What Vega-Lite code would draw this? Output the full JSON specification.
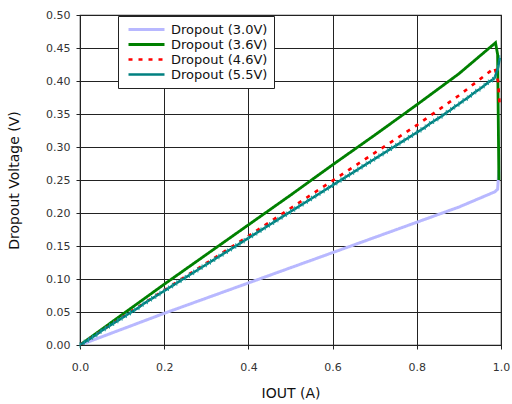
{
  "$schema": "https://vega.github.io/schema/vega-lite/v6.json",
  "autosize": {"type": "none"},
  "width": 421,
  "height": 330,
  "padding": {"left": 80, "top": 15, "right": 11, "bottom": 59},
  "background": "white",
  "config": {
    "font": "DejaVu Sans",
    "view": {"stroke": "#222", "strokeWidth": 1.2},
    "axis": {"gridColor": "#222", "gridOpacity": 1, "gridWidth": 1, "domain": false, "tickColor": "#222", "tickSize": 4, "labelColor": "#333", "labelFontSize": 11, "labelFlush": false, "titleFontSize": 14, "titleFontWeight": "normal", "titleColor": "#111"}
  },
  "datasets": {
    "main": [
      {"s": "Dropout (3.0V)", "x": 0, "y": 0},
      {"s": "Dropout (3.0V)", "x": 0.1, "y": 0.024},
      {"s": "Dropout (3.0V)", "x": 0.2, "y": 0.048},
      {"s": "Dropout (3.0V)", "x": 0.3, "y": 0.071},
      {"s": "Dropout (3.0V)", "x": 0.4, "y": 0.094},
      {"s": "Dropout (3.0V)", "x": 0.5, "y": 0.117},
      {"s": "Dropout (3.0V)", "x": 0.6, "y": 0.14},
      {"s": "Dropout (3.0V)", "x": 0.7, "y": 0.163},
      {"s": "Dropout (3.0V)", "x": 0.8, "y": 0.186},
      {"s": "Dropout (3.0V)", "x": 0.9, "y": 0.209},
      {"s": "Dropout (3.0V)", "x": 0.985, "y": 0.232},
      {"s": "Dropout (3.0V)", "x": 0.992, "y": 0.236},
      {"s": "Dropout (3.0V)", "x": 0.995, "y": 0.265},
      {"s": "Dropout (3.6V)", "x": 0, "y": 0},
      {"s": "Dropout (3.6V)", "x": 0.1, "y": 0.046},
      {"s": "Dropout (3.6V)", "x": 0.2, "y": 0.092},
      {"s": "Dropout (3.6V)", "x": 0.3, "y": 0.137},
      {"s": "Dropout (3.6V)", "x": 0.4, "y": 0.182},
      {"s": "Dropout (3.6V)", "x": 0.5, "y": 0.227},
      {"s": "Dropout (3.6V)", "x": 0.6, "y": 0.273},
      {"s": "Dropout (3.6V)", "x": 0.7, "y": 0.318},
      {"s": "Dropout (3.6V)", "x": 0.8, "y": 0.364},
      {"s": "Dropout (3.6V)", "x": 0.9, "y": 0.411},
      {"s": "Dropout (3.6V)", "x": 0.987, "y": 0.458},
      {"s": "Dropout (3.6V)", "x": 0.992, "y": 0.44},
      {"s": "Dropout (3.6V)", "x": 0.995, "y": 0.25},
      {"s": "Dropout (4.6V)", "x": 0, "y": 0},
      {"s": "Dropout (4.6V)", "x": 0.1, "y": 0.042},
      {"s": "Dropout (4.6V)", "x": 0.2, "y": 0.083},
      {"s": "Dropout (4.6V)", "x": 0.3, "y": 0.124},
      {"s": "Dropout (4.6V)", "x": 0.4, "y": 0.165},
      {"s": "Dropout (4.6V)", "x": 0.5, "y": 0.207},
      {"s": "Dropout (4.6V)", "x": 0.6, "y": 0.249},
      {"s": "Dropout (4.6V)", "x": 0.7, "y": 0.291},
      {"s": "Dropout (4.6V)", "x": 0.8, "y": 0.333},
      {"s": "Dropout (4.6V)", "x": 0.9, "y": 0.378},
      {"s": "Dropout (4.6V)", "x": 0.985, "y": 0.42},
      {"s": "Dropout (4.6V)", "x": 0.993, "y": 0.4},
      {"s": "Dropout (4.6V)", "x": 0.997, "y": 0.36},
      {"s": "Dropout (5.5V)", "x": 0, "y": 0},
      {"s": "Dropout (5.5V)", "x": 0.01, "y": 0.004},
      {"s": "Dropout (5.5V)", "x": 0.02, "y": 0.008},
      {"s": "Dropout (5.5V)", "x": 0.03, "y": 0.012},
      {"s": "Dropout (5.5V)", "x": 0.04, "y": 0.016},
      {"s": "Dropout (5.5V)", "x": 0.05, "y": 0.021},
      {"s": "Dropout (5.5V)", "x": 0.06, "y": 0.025},
      {"s": "Dropout (5.5V)", "x": 0.07, "y": 0.029},
      {"s": "Dropout (5.5V)", "x": 0.08, "y": 0.033},
      {"s": "Dropout (5.5V)", "x": 0.09, "y": 0.037},
      {"s": "Dropout (5.5V)", "x": 0.1, "y": 0.041},
      {"s": "Dropout (5.5V)", "x": 0.11, "y": 0.045},
      {"s": "Dropout (5.5V)", "x": 0.12, "y": 0.049},
      {"s": "Dropout (5.5V)", "x": 0.13, "y": 0.053},
      {"s": "Dropout (5.5V)", "x": 0.14, "y": 0.057},
      {"s": "Dropout (5.5V)", "x": 0.15, "y": 0.062},
      {"s": "Dropout (5.5V)", "x": 0.16, "y": 0.066},
      {"s": "Dropout (5.5V)", "x": 0.17, "y": 0.07},
      {"s": "Dropout (5.5V)", "x": 0.18, "y": 0.074},
      {"s": "Dropout (5.5V)", "x": 0.19, "y": 0.078},
      {"s": "Dropout (5.5V)", "x": 0.2, "y": 0.082},
      {"s": "Dropout (5.5V)", "x": 0.21, "y": 0.086},
      {"s": "Dropout (5.5V)", "x": 0.22, "y": 0.09},
      {"s": "Dropout (5.5V)", "x": 0.23, "y": 0.094},
      {"s": "Dropout (5.5V)", "x": 0.24, "y": 0.098},
      {"s": "Dropout (5.5V)", "x": 0.25, "y": 0.102},
      {"s": "Dropout (5.5V)", "x": 0.26, "y": 0.106},
      {"s": "Dropout (5.5V)", "x": 0.27, "y": 0.11},
      {"s": "Dropout (5.5V)", "x": 0.28, "y": 0.114},
      {"s": "Dropout (5.5V)", "x": 0.29, "y": 0.118},
      {"s": "Dropout (5.5V)", "x": 0.3, "y": 0.122},
      {"s": "Dropout (5.5V)", "x": 0.31, "y": 0.126},
      {"s": "Dropout (5.5V)", "x": 0.32, "y": 0.13},
      {"s": "Dropout (5.5V)", "x": 0.33, "y": 0.134},
      {"s": "Dropout (5.5V)", "x": 0.34, "y": 0.138},
      {"s": "Dropout (5.5V)", "x": 0.35, "y": 0.142},
      {"s": "Dropout (5.5V)", "x": 0.36, "y": 0.146},
      {"s": "Dropout (5.5V)", "x": 0.37, "y": 0.15},
      {"s": "Dropout (5.5V)", "x": 0.38, "y": 0.154},
      {"s": "Dropout (5.5V)", "x": 0.39, "y": 0.158},
      {"s": "Dropout (5.5V)", "x": 0.4, "y": 0.162},
      {"s": "Dropout (5.5V)", "x": 0.41, "y": 0.166},
      {"s": "Dropout (5.5V)", "x": 0.42, "y": 0.17},
      {"s": "Dropout (5.5V)", "x": 0.43, "y": 0.174},
      {"s": "Dropout (5.5V)", "x": 0.44, "y": 0.178},
      {"s": "Dropout (5.5V)", "x": 0.45, "y": 0.182},
      {"s": "Dropout (5.5V)", "x": 0.46, "y": 0.186},
      {"s": "Dropout (5.5V)", "x": 0.47, "y": 0.19},
      {"s": "Dropout (5.5V)", "x": 0.48, "y": 0.194},
      {"s": "Dropout (5.5V)", "x": 0.49, "y": 0.198},
      {"s": "Dropout (5.5V)", "x": 0.5, "y": 0.202},
      {"s": "Dropout (5.5V)", "x": 0.51, "y": 0.206},
      {"s": "Dropout (5.5V)", "x": 0.52, "y": 0.21},
      {"s": "Dropout (5.5V)", "x": 0.53, "y": 0.214},
      {"s": "Dropout (5.5V)", "x": 0.54, "y": 0.218},
      {"s": "Dropout (5.5V)", "x": 0.55, "y": 0.222},
      {"s": "Dropout (5.5V)", "x": 0.56, "y": 0.226},
      {"s": "Dropout (5.5V)", "x": 0.57, "y": 0.23},
      {"s": "Dropout (5.5V)", "x": 0.58, "y": 0.234},
      {"s": "Dropout (5.5V)", "x": 0.59, "y": 0.238},
      {"s": "Dropout (5.5V)", "x": 0.6, "y": 0.242},
      {"s": "Dropout (5.5V)", "x": 0.61, "y": 0.246},
      {"s": "Dropout (5.5V)", "x": 0.62, "y": 0.25},
      {"s": "Dropout (5.5V)", "x": 0.63, "y": 0.254},
      {"s": "Dropout (5.5V)", "x": 0.64, "y": 0.258},
      {"s": "Dropout (5.5V)", "x": 0.65, "y": 0.262},
      {"s": "Dropout (5.5V)", "x": 0.66, "y": 0.266},
      {"s": "Dropout (5.5V)", "x": 0.67, "y": 0.27},
      {"s": "Dropout (5.5V)", "x": 0.68, "y": 0.274},
      {"s": "Dropout (5.5V)", "x": 0.69, "y": 0.278},
      {"s": "Dropout (5.5V)", "x": 0.7, "y": 0.282},
      {"s": "Dropout (5.5V)", "x": 0.71, "y": 0.286},
      {"s": "Dropout (5.5V)", "x": 0.72, "y": 0.29},
      {"s": "Dropout (5.5V)", "x": 0.73, "y": 0.294},
      {"s": "Dropout (5.5V)", "x": 0.74, "y": 0.298},
      {"s": "Dropout (5.5V)", "x": 0.75, "y": 0.302},
      {"s": "Dropout (5.5V)", "x": 0.76, "y": 0.306},
      {"s": "Dropout (5.5V)", "x": 0.77, "y": 0.31},
      {"s": "Dropout (5.5V)", "x": 0.78, "y": 0.314},
      {"s": "Dropout (5.5V)", "x": 0.79, "y": 0.318},
      {"s": "Dropout (5.5V)", "x": 0.8, "y": 0.322},
      {"s": "Dropout (5.5V)", "x": 0.81, "y": 0.326},
      {"s": "Dropout (5.5V)", "x": 0.82, "y": 0.33},
      {"s": "Dropout (5.5V)", "x": 0.83, "y": 0.335},
      {"s": "Dropout (5.5V)", "x": 0.84, "y": 0.339},
      {"s": "Dropout (5.5V)", "x": 0.85, "y": 0.343},
      {"s": "Dropout (5.5V)", "x": 0.86, "y": 0.347},
      {"s": "Dropout (5.5V)", "x": 0.87, "y": 0.352},
      {"s": "Dropout (5.5V)", "x": 0.88, "y": 0.356},
      {"s": "Dropout (5.5V)", "x": 0.89, "y": 0.361},
      {"s": "Dropout (5.5V)", "x": 0.9, "y": 0.365},
      {"s": "Dropout (5.5V)", "x": 0.91, "y": 0.37},
      {"s": "Dropout (5.5V)", "x": 0.92, "y": 0.374},
      {"s": "Dropout (5.5V)", "x": 0.93, "y": 0.379},
      {"s": "Dropout (5.5V)", "x": 0.94, "y": 0.384},
      {"s": "Dropout (5.5V)", "x": 0.95, "y": 0.388},
      {"s": "Dropout (5.5V)", "x": 0.96, "y": 0.393},
      {"s": "Dropout (5.5V)", "x": 0.97, "y": 0.398},
      {"s": "Dropout (5.5V)", "x": 0.98, "y": 0.402},
      {"s": "Dropout (5.5V)", "x": 0.985, "y": 0.405},
      {"s": "Dropout (5.5V)", "x": 0.993, "y": 0.42},
      {"s": "Dropout (5.5V)", "x": 0.997, "y": 0.435}
    ]
  },
  "data": {"name": "main"},
  "encoding": {
    "x": {"field": "x", "type": "quantitative", "scale": {"domain": [0, 1]},
      "axis": {"values": [0, 0.2, 0.4, 0.6, 0.8, 1.0], "format": ".1f", "title": "IOUT (A)", "labelPadding": 12, "titlePadding": 14}},
    "y": {"field": "y", "type": "quantitative", "scale": {"domain": [0, 0.5]},
      "axis": {"values": [0, 0.05, 0.1, 0.15, 0.2, 0.25, 0.3, 0.35, 0.4, 0.45, 0.5], "format": ".2f", "title": "Dropout Voltage (V)", "labelPadding": 6, "titlePadding": 24}}
  },
  "layer": [
    {
      "mark": {"type": "line", "clip": true},
      "encoding": {
        "color": {"field": "s", "type": "nominal", "title": null,
          "scale": {"domain": ["Dropout (3.0V)", "Dropout (3.6V)", "Dropout (4.6V)", "Dropout (5.5V)"], "range": ["#B8B8FF", "#008000", "#FF0000", "#008080"]},
          "legend": {"orient": "none", "legendX": 38, "legendY": 1, "fillColor": "white", "strokeColor": "#222", "padding": 6, "symbolType": "M-0.5,0H5.5", "symbolSize": 144, "labelFontSize": 13, "labelColor": "#111", "rowPadding": 0, "labelOffset": 32}},
        "strokeDash": {"field": "s", "type": "nominal", "title": null,
          "scale": {"domain": ["Dropout (3.0V)", "Dropout (3.6V)", "Dropout (4.6V)", "Dropout (5.5V)"], "range": [[1, 0], [1, 0], [4, 6], [1, 0]]}},
        "strokeWidth": {"field": "s", "type": "nominal", "title": null,
          "scale": {"domain": ["Dropout (3.0V)", "Dropout (3.6V)", "Dropout (4.6V)", "Dropout (5.5V)"], "range": [3, 2.5, 2.5, 1]}},
        "order": {"field": "x", "type": "quantitative"}
      }
    },
    {
      "transform": [{"filter": "datum.s == 'Dropout (5.5V)'"}],
      "mark": {"type": "point", "shape": "M0,-1V1", "size": 30, "stroke": "#1a9a9a", "strokeWidth": 1, "filled": false, "opacity": 1},
      "encoding": {}
    }
  ]
}
